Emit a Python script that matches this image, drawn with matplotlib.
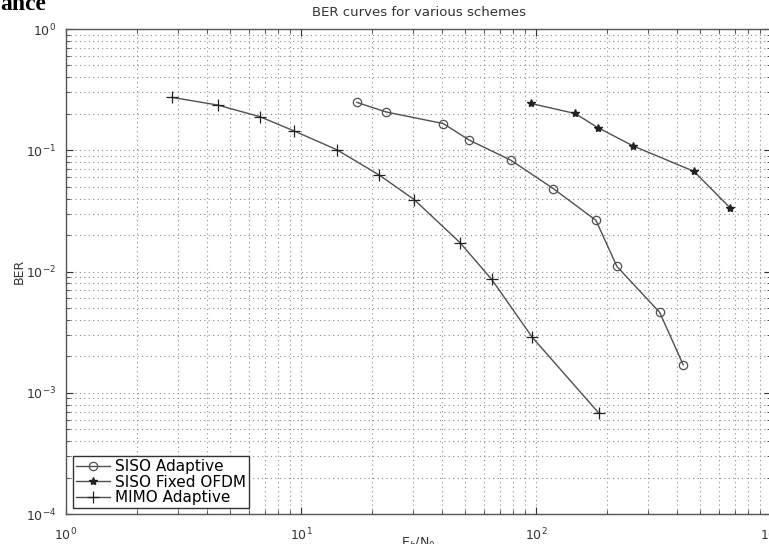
#!/usr/bin/env python

import matplotlib
matplotlib.use('Agg')
import matplotlib.pyplot as plt

# values
mimo_x = [2.82, 4.42, 6.69, 9.37, 14.2, 21.5, 30.3, 47.5, 64.8, 96.5, 185]
mimo_ber = [0.273, 0.236, 0.189, 0.144, 0.101, 0.0625, 0.0392, 0.0173, 0.0086, 0.00286, 0.00068]

siso_ad_x = [17.3, 23.0, 40.3, 52.1, 78.3, 118.6, 180, 221, 336, 423]
siso_ad_ber = [0.248, 0.207, 0.166, 0.121, 0.0826, 0.0482, 0.0264, 0.011, 0.0046, 0.0017]

siso_fx_x = [95.2, 146.6, 183, 259, 470, 669]
siso_fx_ber = [0.243, 0.201, 0.154, 0.1085, 0.067, 0.0336]

labels = ['SISO Adaptive', 'SISO Fixed OFDM', 'MIMO Adaptive']

plt.rc('font', family='DejaVu Sans', size=9)

fig = plt.figure(figsize=(7.69, 5.44), dpi=100)
ax = fig.add_axes([66/769, 30/544, 705/769, 485/544])

lc = '#505050'
l1, = ax.plot(siso_ad_x, siso_ad_ber, '-o', color=lc, lw=1.0, ms=6,
              mfc='none', mec=lc, mew=0.9)
l2, = ax.plot(siso_fx_x, siso_fx_ber, '-*', color=lc, lw=1.0, ms=6,
              mfc='#222222', mec='#222222')
l3, = ax.plot(mimo_x, mimo_ber, '-+', color=lc, lw=1.0, ms=8,
              mec='#222222', mew=0.9)

ax.set_xscale('log')
ax.set_yscale('log')
ax.set_xlim(1, 1000)
ax.set_ylim(1e-4, 1)

ax.grid(True, which='both', color='#8a8a8a', linestyle=(0, (1, 3)), lw=0.8)
ax.tick_params(which='both', direction='in', top=True, right=True, colors='#333333')
ax.tick_params(which='major', length=5, labelsize=9)
ax.tick_params(axis='x', which='major', pad=9)
ax.tick_params(axis='y', which='major', pad=7)
ax.tick_params(which='minor', length=3)
for s in ax.spines.values():
    s.set_color('#555555')
    s.set_linewidth(1.0)

ax.set_title('BER curves for various schemes', fontsize=9.5, color='#333333', pad=9)
ax.set_ylabel('BER', fontsize=9, color='#333333')
ax.set_xlabel('E$_b$/N$_0$', fontsize=9, color='#333333')
ax.yaxis.set_label_coords(-40/705, 0.5)
ax.xaxis.set_label_coords(0.5, -22/485)

leg = ax.legend(handles=[l1, l2, l3], labels=labels, loc='lower left',
                bbox_to_anchor=(7/705, 6/485), borderaxespad=0,
                fontsize=11, handlelength=2.2, handletextpad=0.35,
                labelspacing=0.02, borderpad=0.2, fancybox=False,
                framealpha=1, edgecolor='#333333')
leg.get_frame().set_linewidth(1.0)

# leftover piece of the page heading above the figure
fig.text(0, 1 - 10/544, 'ance', family='Liberation Serif', weight='bold',
         fontsize=17, va='baseline', ha='left')

plt.savefig('out.png', dpi=100)
